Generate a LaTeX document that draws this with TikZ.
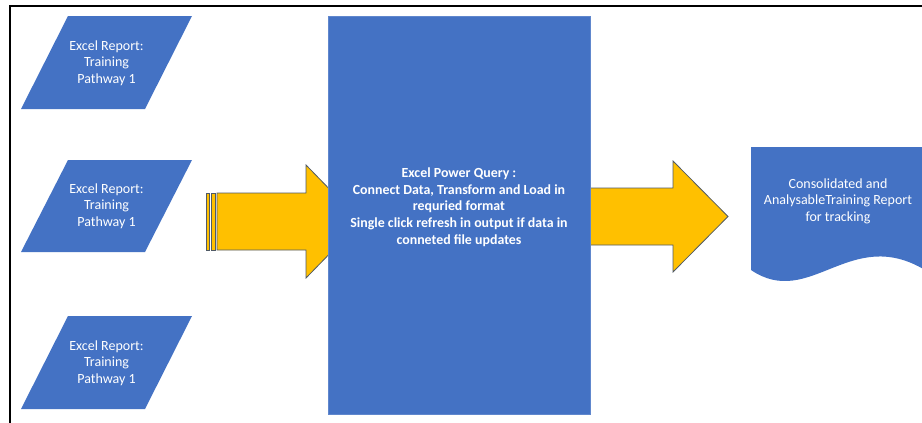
\documentclass[tikz,border=0pt]{standalone}
\usepackage{fontspec}
\setmainfont{Carlito}
\definecolor{ppblue}{HTML}{4472C4}
\definecolor{ppyellow}{HTML}{FFC000}
\definecolor{ppedge}{HTML}{505A66}
\begin{document}
\begin{tikzpicture}[x=1pt,y=-1pt,
  lbl/.style={text=white,align=center,font=\fontsize{14}{16.6}\selectfont},
  blbl/.style={text=white,align=center,font=\bfseries\fontsize{13.9}{16.7}\selectfont},
  inshape/.style={fill=ppblue},
  blockarrow/.style={draw=ppedge,fill=ppyellow,line width=0.8pt,line join=miter}]
\useasboundingbox (0,0) rectangle (922,423);
\fill[white] (0,0) rectangle (922,423);
\draw[line width=1.6pt] (10,423) -- (10,6) -- (922,6);

% input reports
\fill[inshape] (21,109) -- (145,109) -- (192,16) -- (68,16) -- cycle;
\node[lbl] (in1) at (106.5,63) {Excel Report:\\Training\\Pathway 1};
\fill[inshape] (21,252) -- (145,252) -- (192,160) -- (68,160) -- cycle;
\node[lbl] (in2) at (106.5,206) {Excel Report:\\Training\\Pathway 1};
\fill[inshape] (21,409) -- (145,409) -- (192,316) -- (68,316) -- cycle;
\node[lbl] (in3) at (106.5,363) {Excel Report:\\Training\\Pathway 1};

% striped arrow into power query
\draw[blockarrow] (206,193) rectangle (209,250);
\draw[blockarrow] (211,193) rectangle (215,250);
\draw[blockarrow] (217,193) -- (306,193) -- (306,165) -- (361,221.5) -- (306,278) -- (306,250) -- (217,250) -- cycle;

% arrow out of power query
\draw[blockarrow] (560,188) -- (673,188) -- (673,161) -- (728,216.5) -- (673,272) -- (673,245) -- (560,245) -- cycle;

% power query box
\node[draw=ppblue!85!white,fill=ppblue,minimum width=262pt,minimum height=398pt,inner sep=0pt] (pq) at (459,215) {};
\node[blbl] (pqtext) at (459,207) {Excel Power Query :\\Connect Data, Transform and Load in\\requried format\\Single click refresh in output if data in\\conneted file updates};

% output document
\fill[ppblue] (751,147) -- (925,147) -- (925,270) .. controls (850,225) and (810,310) .. (751,270) -- cycle;
\node[lbl] (out) at (838,201) {Consolidated and\\AnalysableTraining Report\\for tracking};
\end{tikzpicture}
\end{document}
